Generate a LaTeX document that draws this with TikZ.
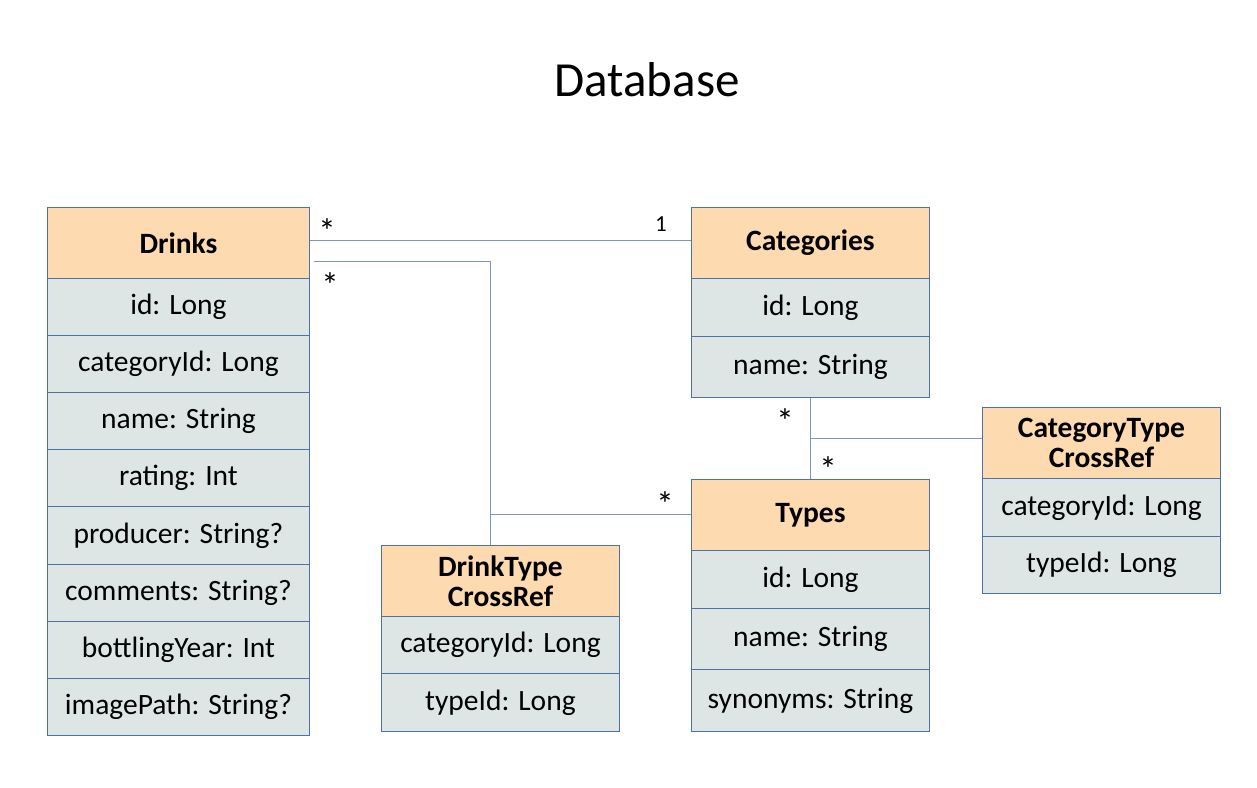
\documentclass[tikz,border=0pt]{standalone}
\usepackage{fontspec}
\setmainfont{Carlito}
\definecolor{hdr}{HTML}{FDDAB0}
\definecolor{rowc}{HTML}{DEE5E5}
\definecolor{edge}{HTML}{4E72A8}
\definecolor{conn}{HTML}{7A97C2}
\tikzset{
  cell/.style={draw=edge, line width=0.9pt, inner sep=0pt, anchor=north west, align=center,
    font=\fontsize{29.5}{30}\selectfont},
  hcell/.style={cell, fill=hdr, font=\fontsize{29.5}{30}\selectfont\bfseries},
  rcell/.style={cell, fill=rowc},
  link/.style={draw=conn, line width=1pt},
  mult/.style={font=\fontsize{35}{35}\selectfont, inner sep=0pt, anchor=north},
  one/.style={font=\fontsize{23}{23}\selectfont, inner sep=0pt, anchor=north}
}
\begin{document}
\begin{tikzpicture}[x=1pt,y=-1pt]
\useasboundingbox (0,0) rectangle (1257,787);
\node[font=\fontsize{49}{50}\selectfont] (title) at (647,80) {Database};

% Drinks
\node[hcell, minimum width=262pt, minimum height=71pt] (d0) at (47,207) {Drinks};
\foreach \t [count=\i] in {id: Long, categoryId: Long, name: String, rating: Int, producer: String?, comments: String?, bottlingYear: Int, imagePath: String?}{
  \node[rcell, minimum width=262pt, minimum height=57.1pt] (d\i) at (47,{278+(\i-1)*57.1}) {\t};
}

% Categories
\node[hcell, minimum width=238pt, minimum height=71pt] (c0) at (691,207) {Categories};
\node[rcell, minimum width=238pt, minimum height=58pt] (c1) at (691,278) {id: Long};
\node[rcell, minimum width=238pt, minimum height=61pt] (c2) at (691,336) {name: String};

% Types
\node[hcell, minimum width=238pt, minimum height=71pt] (t0) at (691,479) {Types};
\node[rcell, minimum width=238pt, minimum height=58pt] (t1) at (691,550) {id: Long};
\node[rcell, minimum width=238pt, minimum height=61pt] (t2) at (691,608) {name: String};
\node[rcell, minimum width=238pt, minimum height=62pt] (t3) at (691,669) {synonyms: String};

% DrinkType CrossRef
\node[hcell, minimum width=238pt, minimum height=71pt] (x0) at (381,545) {DrinkType\\CrossRef};
\node[rcell, minimum width=238pt, minimum height=57pt] (x1) at (381,616) {categoryId: Long};
\node[rcell, minimum width=238pt, minimum height=58pt] (x2) at (381,673) {typeId: Long};

% CategoryType CrossRef
\node[hcell, minimum width=238pt, minimum height=71pt] (y0) at (982,407) {CategoryType\\CrossRef};
\node[rcell, minimum width=238pt, minimum height=58pt] (y1) at (982,478) {categoryId: Long};
\node[rcell, minimum width=238pt, minimum height=57pt] (y2) at (982,536) {typeId: Long};

% Connectors
\draw[link] (d0.east |- 0,240) -- (c0.west |- 0,240);
\coordinate (s2) at ([xshift=4pt]d0.east |- 0,261);
\coordinate (k1) at (490,261);
\coordinate (k2) at (490,514);
\draw[link] (s2) -- (k1) -- (k2) -- (t0.west |- k2);
\draw[link] (k2) -- (x0.north -| k2);
\coordinate (k3) at (810,438);
\draw[link] (c2.south -| k3) -- (t0.north -| k3);
\draw[link] (k3) -- (y0.west |- k3);

% Multiplicities
\node[mult] (m1) at (327,218) {*};
\node[one]  (m2) at (661,216) {1};
\node[mult] (m3) at (330,272) {*};
\node[mult] (m4) at (665,491) {*};
\node[mult] (m5) at (785,408) {*};
\node[mult] (m6) at (828,456) {*};
\end{tikzpicture}
\end{document}
